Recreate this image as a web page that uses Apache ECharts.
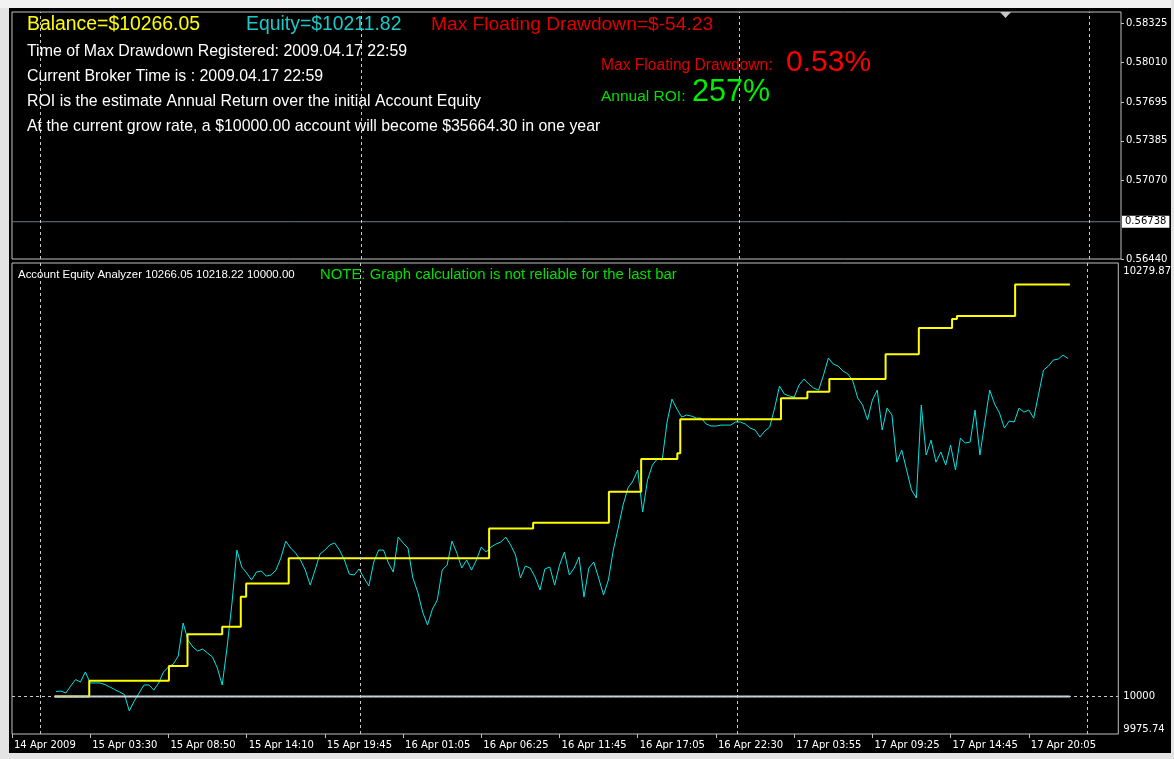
<!DOCTYPE html>
<html><head><meta charset="utf-8">
<script src="https://cdn.jsdelivr.net/npm/echarts@6/dist/echarts.min.js"></script>
<style>html,body{margin:0;padding:0;background:#e6e6e6;}#c{width:1174px;height:759px;}</style>
</head><body><div id="c"></div>
<script>
// ---- data (x unit = 20 minutes of bars, tick every 16 units) ----
const timeLabels = ['14 Apr 2009','15 Apr 03:30','15 Apr 08:50','15 Apr 14:10','15 Apr 19:45','16 Apr 01:05','16 Apr 06:25','16 Apr 11:45','16 Apr 17:05','16 Apr 22:30','17 Apr 03:55','17 Apr 09:25','17 Apr 14:45','17 Apr 20:05'];
const tickStep = 16;
const daySeparators = [5.8, 71.3, 148.4, 219.9];
const equityStart = 9;
const equityValues = [
10003.2,10003.5,10002.2,10006.7,10010.9,10009.3,10015.8,10008.7,10008.7,10008.7,
10007.7,10006.1,10004.5,10002.9,10001.2,9990.6,9997.0,10002.2,10007.4,10007.4,
10004.1,10008.7,10015.8,10019.0,10020.9,10026.1,10047.4,10036.4,10031.9,10029.3,
10030.6,10028.0,10025.5,10018.4,10007.4,10031.9,10060.3,10094.5,10083.6,10079.7,
10075.2,10080.3,10081.0,10077.7,10078.4,10081.6,10089.4,10100.3,10095.8,10092.6,
10088.1,10081.6,10071.9,10081.6,10091.9,10094.5,10097.8,10099.1,10094.5,10088.1,
10079.0,10078.4,10082.3,10076.5,10071.3,10086.8,10094.5,10094.5,10086.1,10080.3,
10102.9,10099.1,10095.8,10076.5,10067.4,10054.5,10046.1,10056.4,10062.3,10081.6,
10084.8,10100.3,10092.6,10082.9,10088.1,10081.6,10088.1,10096.5,10093.2,10096.5,
10098.4,10099.7,10102.9,10097.8,10091.3,10076.5,10084.2,10082.9,10077.1,10068.7,
10082.3,10083.6,10071.9,10084.8,10093.2,10078.4,10082.9,10090.0,10064.2,10082.9,
10086.8,10076.5,10065.5,10075.2,10094.5,10108.7,10123.6,10134.6,10139.1,10146.2,
10119.1,10139.7,10149.4,10153.3,10152.6,10177.2,10192.0,10185.6,10180.4,10181.7,
10181.0,10179.7,10179.7,10175.9,10174.6,10174.6,10175.2,10175.2,10175.2,10177.2,
10177.2,10175.9,10173.3,10172.0,10167.5,10171.4,10173.9,10186.2,10200.4,10195.2,
10194.0,10193.3,10201.1,10204.9,10201.7,10199.1,10197.8,10207.5,10218.5,10214.6,
10213.3,10210.1,10208.2,10203.6,10192.7,10188.1,10178.5,10191.4,10197.8,10172.0,
10186.2,10181.7,10151.3,10159.1,10146.2,10133.3,10128.1,10188.1,10155.9,10165.5,
10151.3,10157.8,10149.4,10162.3,10146.2,10166.8,10163.6,10164.3,10184.9,10155.9,
10177.2,10197.8,10188.8,10183.0,10173.3,10177.8,10177.2,10186.2,10183.6,10184.9,
10179.7,10195.2,10210.7,10213.3,10217.2,10217.8,10220.4,10218.2
];
const balanceTimes = [8.7,15.8,32.1,35.9,43.0,46.8,47.9,56.6,97.6,106.6,122.1,128.7,136.1,136.7,157.3,162.7,167.2,178.7,185.5,192.3,193.3,205.2,216.4];
const balanceValues = [10000,10010.2,10019.6,10040.1,10045.0,10064.4,10073.0,10089.2,10108.5,10112.2,10132.2,10153.3,10157.0,10178.9,10192.5,10196.7,10204.9,10220.9,10237.9,10243.7,10245.6,10266.05,10266.05];
const initialDeposit = 10000;
const lowerAxisLabels = [9975.74, 10000, 10279.87];
const upperAxisLabels = [0.58325, 0.58010, 0.57695, 0.57385, 0.57070, 0.56440];
const currentPrice = 0.56738;

const infoLines = [
  'Time of Max Drawdown Registered: 2009.04.17 22:59',
  'Current Broker Time is : 2009.04.17 22:59',
  'ROI is the estimate Annual Return over the initial Account Equity',
  'At the current grow rate, a $10000.00 account will become $35664.30 in one year'
];

// ---- build ----
const X_MAX = 226.3;
const equityData = equityValues.map((v, i) => [equityStart + i, v]);
const balanceData = balanceTimes.map((t, i) => [t, balanceValues[i]]);
const initData = [[balanceTimes[0], initialDeposit], [balanceTimes[balanceTimes.length - 1], initialDeposit]];
const priceData = [[0, currentPrice], [X_MAX, currentPrice]];
const tickVals = timeLabels.map((_, i) => i * tickStep);

const AF = 'Liberation Sans, Arial, sans-serif';
const TF = 'DejaVu Sans, Verdana, sans-serif';
const sepStyle = {type: [3, 3], color: '#c8c8c8', width: 1};

function txt(text, x, y, size, color) {
  return {type: 'text', silent: true, z: 100, style: {text: text, x: x, y: y, fill: color, font: size + 'px ' + AF, align: 'left', verticalAlign: 'middle'}};
}

const chart = echarts.init(document.getElementById('c'));
chart.setOption({
  animation: false,
  backgroundColor: '#000',
  grid: [
    {left: 12, right: 53, top: 12, bottom: 500, show: true, borderColor: '#c0c0c0', borderWidth: 1, backgroundColor: '#000'},
    {left: 12, right: 53, top: 263, bottom: 25, show: true, borderColor: '#c0c0c0', borderWidth: 1, backgroundColor: '#000'}
  ],
  xAxis: [
    {type: 'value', gridIndex: 0, min: 0, max: X_MAX, show: false, axisLine: {onZero: false}},
    {type: 'value', gridIndex: 1, min: 0, max: X_MAX, interval: tickStep,
      axisLine: {show: false, onZero: false},
      splitLine: {show: false},
      axisTick: {show: true, length: 4, customValues: tickVals, lineStyle: {color: '#c0c0c0'}},
      axisLabel: {show: true, customValues: tickVals, color: '#ffffff', fontFamily: TF, fontSize: 10, align: 'left', margin: 6,
        padding: [0, 0, 0, 2],
        formatter: v => timeLabels[Math.round(v / tickStep)] || ''}}
  ],
  yAxis: [
    {type: 'value', gridIndex: 0, position: 'right', min: 0.5644, max: 0.584155,
      axisLine: {show: false, onZero: false}, splitLine: {show: false},
      axisTick: {show: true, length: 3, customValues: upperAxisLabels, lineStyle: {color: '#c0c0c0'}},
      axisLabel: {show: true, customValues: upperAxisLabels, color: '#ffffff', fontFamily: TF, fontSize: 10, margin: 5,
        formatter: v => v.toFixed(5)}},
    {type: 'value', gridIndex: 1, position: 'right', min: 9975.74, max: 10279.87,
      axisLine: {show: false, onZero: false}, splitLine: {show: false},
      axisTick: {show: false},
      axisLabel: {show: true, customValues: lowerAxisLabels, color: '#ffffff', fontFamily: TF, fontSize: 10, margin: 5,
        verticalAlignMinLabel: 'bottom', verticalAlignMaxLabel: 'top', padding: [3, 0, 0, 0],
        formatter: v => String(v)}}
  ],
  series: [
    {name: 'Price', type: 'line', xAxisIndex: 0, yAxisIndex: 0, data: priceData, silent: true, showSymbol: false,
      lineStyle: {color: '#6a7a8a', width: 1}, itemStyle: {color: '#6a7a8a'},
      endLabel: {show: true, distance: 1, formatter: () => currentPrice.toFixed(5), color: '#000', backgroundColor: '#fff',
        fontFamily: TF, fontSize: 10, padding: [1, 3, 1, 3]},
      markLine: {silent: true, symbol: 'none', animation: false,
        data: daySeparators.map(d => ({xAxis: d, lineStyle: sepStyle, label: {show: false}}))}},
    {name: 'Equity', type: 'line', xAxisIndex: 1, yAxisIndex: 1, data: equityData, showSymbol: false, z: 2,
      lineStyle: {color: '#00e5e5', width: 1}, itemStyle: {color: '#00e5e5'},
      markLine: {silent: true, symbol: 'none', animation: false,
        data: daySeparators.map(d => ({xAxis: d, lineStyle: sepStyle, label: {show: false}})).concat([
          {yAxis: initialDeposit, lineStyle: sepStyle, label: {show: false}}
        ])}},
    {name: 'Balance', type: 'line', step: 'end', xAxisIndex: 1, yAxisIndex: 1, data: balanceData, showSymbol: false, z: 3,
      lineStyle: {color: '#ffff00', width: 2}, itemStyle: {color: '#ffff00'}},
    {name: 'Initial', type: 'line', xAxisIndex: 1, yAxisIndex: 1, data: initData, showSymbol: false, z: 4,
      lineStyle: {color: '#c4d6de', width: 2}, itemStyle: {color: '#c4d6de'}}
  ],
  graphic: [
    {type: 'rect', silent: true, z: 200, shape: {x: 0, y: 0, width: 9, height: 759}, style: {fill: '#e4e4e4'}},
    {type: 'rect', silent: true, z: 200, shape: {x: 0, y: 0, width: 1174, height: 8}, style: {fill: '#f2f2f2'}},
    {type: 'rect', silent: true, z: 200, shape: {x: 0, y: 753, width: 1174, height: 6}, style: {fill: '#e4e4e4'}},
    {type: 'rect', silent: true, z: 200, shape: {x: 1171, y: 0, width: 3, height: 759}, style: {fill: '#e4e4e4'}},
    {type: 'polygon', silent: true, z: 100, shape: {points: [[1000, 12], [1011, 12], [1005.5, 18]]}, style: {fill: '#c8c8c8'}},
    txt('Balance=$10266.05', 27, 25, 19.4, '#ffff00'),
    txt('Equity=$10211.82', 246, 25, 19.4, '#1cc8c8'),
    txt('Max Floating Drawdown=$-54.23', 431, 25, 19.2, '#e00000'),
    txt(infoLines[0], 27, 52, 15.9, '#ffffff'),
    txt(infoLines[1], 27, 77, 15.9, '#ffffff'),
    txt(infoLines[2], 27, 102, 15.9, '#ffffff'),
    txt(infoLines[3], 27, 127, 15.9, '#ffffff'),
    txt('Max Floating Drawdown:', 601, 66, 15.6, '#e00000'),
    txt('0.53%', 786, 63, 30, '#ff0000'),
    txt('Annual ROI:', 601, 97, 15.5, '#00e000'),
    txt('257%', 692, 93, 30.5, '#00ee00'),
    txt('Account Equity Analyzer 10266.05 10218.22 10000.00', 18, 275, 11.45, '#ffffff'),
    txt('NOTE: Graph calculation is not reliable for the last bar', 320, 275, 14.9, '#00e000')
  ]
});
</script></body></html>
